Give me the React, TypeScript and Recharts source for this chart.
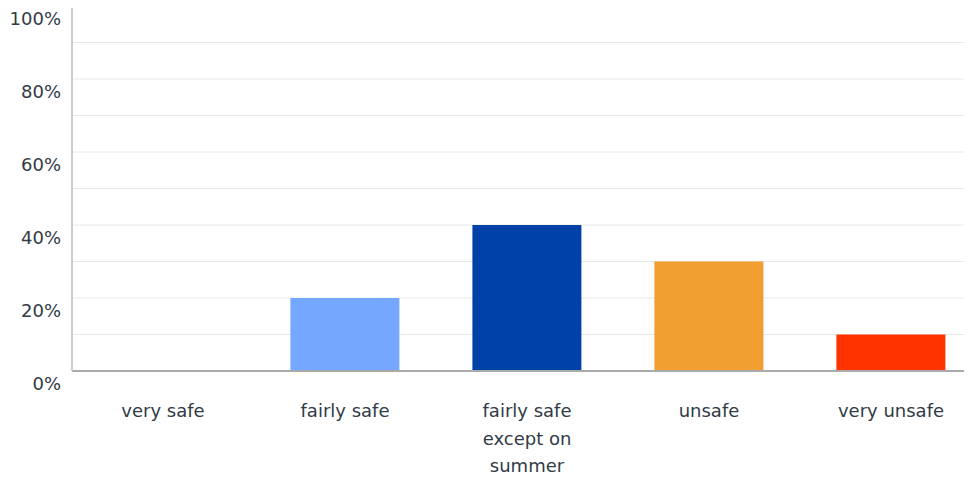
import React from 'react';
import { BarChart, Bar, XAxis, YAxis, CartesianGrid, Cell } from 'recharts';

const categories = ['very safe', 'fairly safe', 'fairly safe except on summer', 'unsafe', 'very unsafe'];
const shares = [0, 20, 40, 30, 10];
const barColors = ['#74a7ff', '#74a7ff', '#0041a8', '#f09e2f', '#ff3300'];
const yTicks = [0, 10, 20, 30, 40, 50, 60, 70, 80, 90, 100];

const data = categories.map((name, i) => ({ name, value: shares[i] }));

const FONT = '"DejaVu Sans", sans-serif';
const TEXT = '#313b46';

const wrap = (s: string, max: number) => {
  const lines: string[] = [];
  let cur = '';
  s.split(' ').forEach((w) => {
    const next = cur ? cur + ' ' + w : w;
    if (next.length > max && cur) {
      lines.push(cur);
      cur = w;
    } else {
      cur = next;
    }
  });
  if (cur) lines.push(cur);
  return lines;
};

const XTick = (props: any) => {
  const { x, y, payload } = props;
  const lines = wrap(payload.value, 11);
  return (
    <text x={x} y={y + 38} textAnchor="middle" fill={TEXT} fontFamily={FONT} fontSize={18}>
      {lines.map((l, i) => (
        <tspan key={i} x={x} dy={i === 0 ? 0 : 27.5}>{l}</tspan>
      ))}
    </text>
  );
};

const YTick = (props: any) => {
  const { y, payload } = props;
  if (payload.value % 20 !== 0) return <g />;
  return (
    <text x={61} y={y + 18.5} textAnchor="end" fill={TEXT} fontFamily={FONT} fontSize={18}>
      {payload.value}%
    </text>
  );
};

const gridLine = (props: any) => {
  const { x1, x2, y1, y2 } = props;
  if (y1 < 10) return <g key={props.key} />;
  return <line key={props.key} x1={x1} x2={x2} y1={y1} y2={y2} stroke="#e8e8e8" strokeWidth={1} />;
};

export default function App() {
  return (
    <div style={{ margin: -8, width: 972, height: 481, overflow: 'hidden', background: '#fff' }}>
      <BarChart
        width={982}
        height={481}
        data={data}
        margin={{ top: 6, right: 0, bottom: 0, left: 0 }}
        barCategoryGap="20%"
      >
        <CartesianGrid vertical={false} horizontal={gridLine} />
        <XAxis
          dataKey="name"
          height={110}
          tick={<XTick />}
          tickLine={false}
          axisLine={{ stroke: '#aaaaaa', strokeWidth: 2 }}
          interval={0}
        />
        <YAxis
          width={72}
          domain={[0, 100]}
          ticks={yTicks}
          tick={<YTick />}
          tickLine={false}
          axisLine={{ stroke: '#cccccc', strokeWidth: 2 }}
          interval={0}
        />
        <Bar dataKey="value" isAnimationActive={false}>
          {data.map((d, i) => (
            <Cell key={d.name} fill={barColors[i]} />
          ))}
        </Bar>
      </BarChart>
    </div>
  );
}
